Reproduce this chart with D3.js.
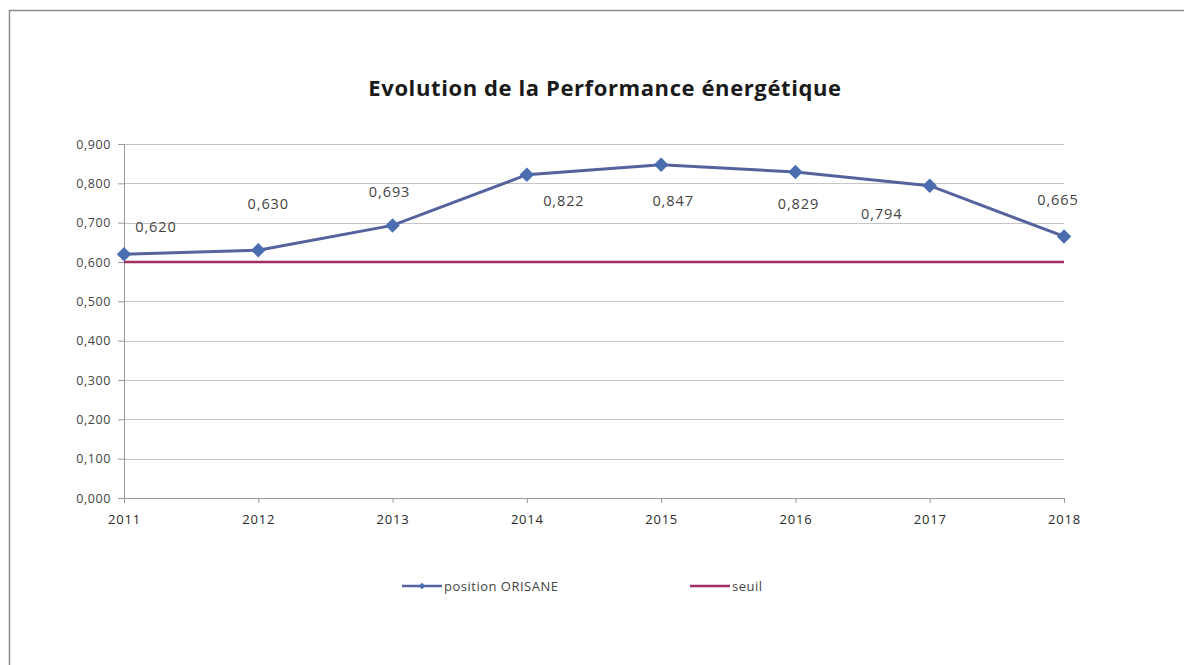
<!DOCTYPE html>
<html lang="fr">
<head>
<meta charset="utf-8">
<title>Evolution de la Performance énergétique</title>
<script src="https://d3js.org/d3.v7.min.js"></script>
<style>
  body { margin: 0; background: #fff; }
  svg { display: block; }
  text { font-family: "Open Sans", "Noto Sans", sans-serif; }
</style>
</head>
<body>
<div id="chart"></div>
<script>
// data
var years = ["2011", "2012", "2013", "2014", "2015", "2016", "2017", "2018"];
var orisane = [0.620, 0.630, 0.693, 0.822, 0.847, 0.829, 0.794, 0.665];
var seuil = [0.6, 0.6, 0.6, 0.6, 0.6, 0.6, 0.6, 0.6];
var yTicks = [0, 0.1, 0.2, 0.3, 0.4, 0.5, 0.6, 0.7, 0.8, 0.9];

var W = 1184, H = 665;
var plot = {left: 124, right: 1064, top: 144, bottom: 498};

var svg = d3.select("#chart").append("svg")
    .attr("width", W).attr("height", H);

// outer frame (only top/left visible in the window)
svg.append("rect")
    .attr("x", 9.5).attr("y", 10.5)
    .attr("width", W + 20).attr("height", H + 20)
    .attr("fill", "#fff")
    .attr("stroke", "#8c8c8c")
    .attr("stroke-width", 1.5);

var x = d3.scalePoint().domain(years).range([plot.left, plot.right]);
var y = d3.scaleLinear().domain([0, 0.9]).range([plot.bottom, plot.top]);
var fmt = function(v) { return d3.format(".3f")(v).replace(".", ","); };

// title
svg.append("text")
    .attr("x", 605).attr("y", 96)
    .attr("text-anchor", "middle")
    .attr("font-size", 22)
    .attr("font-weight", "bold")
    .attr("letter-spacing", 0.6)
    .attr("fill", "#1a1a1a")
    .text("Evolution de la Performance énergétique");

// gridlines
svg.append("g").selectAll("line")
    .data(yTicks.filter(function(d) { return d > 0; }))
    .enter().append("line")
    .attr("x1", plot.left).attr("x2", plot.right)
    .attr("y1", function(d) { return Math.round(y(d)) + 0.5; })
    .attr("y2", function(d) { return Math.round(y(d)) + 0.5; })
    .attr("stroke", "#c4c4c4").attr("stroke-width", 1);

// y axis
var yAxis = svg.append("g")
    .attr("transform", "translate(" + plot.left + ",0)")
    .call(d3.axisLeft(y).tickValues(yTicks).tickFormat(fmt).tickSize(6).tickPadding(7));
yAxis.select(".domain").attr("stroke", "#999");
yAxis.selectAll(".tick line").attr("stroke", "#999");
yAxis.selectAll("text").attr("font-size", 12.5).attr("letter-spacing", 0.6).attr("fill", "#444")
    .style("font-family", "'Open Sans', sans-serif");

// x axis
var xAxis = svg.append("g")
    .attr("transform", "translate(0," + plot.bottom + ")")
    .call(d3.axisBottom(x).tickSize(5).tickSizeOuter(0).tickPadding(12));
xAxis.select(".domain").attr("stroke", "#999").attr("d", "M" + plot.left + ",0.5H" + plot.right);
xAxis.selectAll(".tick line").attr("stroke", "#999");
xAxis.selectAll("text").attr("font-size", 13).attr("letter-spacing", 0.8).attr("fill", "#2a2a2a")
    .style("font-family", "'Open Sans', sans-serif");

// seuil line
var line = d3.line()
    .x(function(d, i) { return x(years[i]); })
    .y(function(d) { return y(d); });

svg.append("path")
    .datum(seuil)
    .attr("d", line)
    .attr("fill", "none")
    .attr("stroke", "#9e2f60")
    .attr("stroke-width", 2.5);

// orisane line
svg.append("path")
    .datum(orisane)
    .attr("d", line)
    .attr("fill", "none")
    .attr("stroke", "#55629e")
    .attr("stroke-width", 3);

var square = d3.symbol().type(d3.symbolSquare).size(85);
svg.append("g").selectAll("path")
    .data(orisane)
    .enter().append("path")
    .attr("d", square)
    .attr("transform", function(d, i) { return "translate(" + x(years[i]) + "," + y(d) + ") rotate(45)"; })
    .attr("fill", "#4a6db0")
    .attr("stroke", "#4a6db0");

// data labels (offsets mimic Excel's placement)
var labelOffset = [[32, -27], [10, -46], [-3, -33], [37, 26], [12, 36], [3, 32], [-48, 28], [-6, -36]];
svg.append("g").selectAll("text")
    .data(orisane)
    .enter().append("text")
    .attr("x", function(d, i) { return x(years[i]) + labelOffset[i][0]; })
    .attr("y", function(d, i) { return y(d) + labelOffset[i][1] + 5; })
    .attr("text-anchor", "middle")
    .attr("font-size", 14.5)
    .attr("letter-spacing", 0.9)
    .attr("fill", "#444")
    .text(fmt);

// legend
var legend = [
    {name: "position ORISANE", color: "#55629e", marker: true, x: 402},
    {name: "seuil", color: "#9e2f60", marker: false, x: 690}
];
var lg = svg.append("g").selectAll("g")
    .data(legend)
    .enter().append("g")
    .attr("transform", function(d) { return "translate(" + d.x + ",586)"; });
lg.append("line")
    .attr("x1", 0).attr("x2", 40)
    .attr("stroke", function(d) { return d.color; })
    .attr("stroke-width", 2.5);
lg.filter(function(d) { return d.marker; }).append("path")
    .attr("d", d3.symbol().type(d3.symbolSquare).size(22))
    .attr("transform", "translate(20,0) rotate(45)")
    .attr("fill", "#4a6db0");
lg.append("text")
    .attr("x", 42).attr("y", 4.5)
    .attr("font-size", 13)
    .attr("letter-spacing", 0.5)
    .attr("fill", "#444")
    .text(function(d) { return d.name; });
</script>
</body>
</html>
